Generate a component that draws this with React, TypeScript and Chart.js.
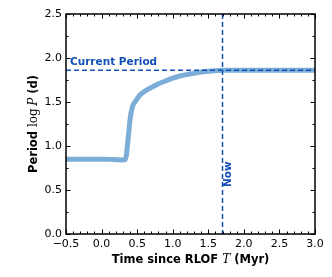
import React, { useEffect, useRef } from "react";
import { Chart, registerables } from "chart.js";

Chart.register(...registerables);

// Data
const times = [-0.5, -0.3, -0.1, 0.0, 0.1, 0.2, 0.3, 0.33, 0.35, 0.362, 0.375, 0.39, 0.405, 0.423, 0.44, 0.47, 0.54, 0.62, 0.68, 0.78, 0.87, 0.98, 1.1, 1.25, 1.38, 1.55, 1.71, 2.0, 2.5, 3.0];
const logP = [0.85, 0.85, 0.85, 0.85, 0.848, 0.845, 0.842, 0.845, 0.9, 0.993, 1.1, 1.22, 1.33, 1.41, 1.46, 1.5, 1.58, 1.63, 1.656, 1.7, 1.73, 1.765, 1.795, 1.82, 1.837, 1.852, 1.86, 1.862, 1.862, 1.862];
const currentPeriod = 1.86;
const nowTime = 1.7;
const xTicks = [-0.5, 0.0, 0.5, 1.0, 1.5, 2.0, 2.5, 3.0];
const yTicks = [0.0, 0.5, 1.0, 1.5, 2.0, 2.5];
const xMinorStep = 0.1;
const yMinorStep = 0.25;
const xTitle = "Time since RLOF ";
const xTitleMath = "T";
const xTitleEnd = " (Myr)";
const currentLabel = "Current Period";
const nowLabel = "Now";

const BLUE = "#1450b8";
const CURVE = "#7badd8";

const overlay = {
  id: "overlay",
  afterDatasetsDraw(chart: any) {
    const ctx = chart.ctx;
    const { left, right, top, bottom } = chart.chartArea;
    const xs = chart.scales.x;
    const ys = chart.scales.y;
    ctx.save();
    // dashed reference lines
    ctx.strokeStyle = BLUE;
    ctx.lineWidth = 1.5;
    ctx.setLineDash([5, 3]);
    const yCur = ys.getPixelForValue(currentPeriod);
    ctx.beginPath();
    ctx.moveTo(left, yCur);
    ctx.lineTo(right, yCur);
    ctx.stroke();
    const xNow = xs.getPixelForValue(nowTime);
    ctx.beginPath();
    ctx.moveTo(xNow, top);
    ctx.lineTo(xNow, bottom);
    ctx.stroke();
    ctx.setLineDash([]);
    // labels
    ctx.fillStyle = BLUE;
    ctx.font = "bold 10.5px 'DejaVu Sans'";
    ctx.textAlign = "left";
    ctx.textBaseline = "alphabetic";
    ctx.fillText(currentLabel, left + 4, yCur - 5);
    ctx.save();
    ctx.translate(xNow + 8.5, ys.getPixelForValue(0.68));
    ctx.rotate(-Math.PI / 2);
    ctx.textAlign = "center";
    ctx.fillText(nowLabel, 0, 0);
    ctx.restore();

    // frame
    ctx.strokeStyle = "#000";
    ctx.lineWidth = 1.5;
    ctx.strokeRect(left, top, right - left, bottom - top);
    // ticks
    ctx.lineWidth = 1;
    const tick = (x1: number, y1: number, x2: number, y2: number) => {
      ctx.beginPath();
      ctx.moveTo(x1, y1);
      ctx.lineTo(x2, y2);
      ctx.stroke();
    };
    const xmin = xs.min, xmax = xs.max, ymin = ys.min, ymax = ys.max;
    const nx = Math.round((xmax - xmin) / xMinorStep);
    for (let i = 0; i <= nx; i++) {
      const v = xmin + i * xMinorStep;
      const p = Math.round(xs.getPixelForValue(v)) + 0.5;
      const major = xTicks.some((t) => Math.abs(t - v) < 1e-6);
      const L = major ? 4.5 : 2.5;
      tick(p, bottom, p, bottom - L);
      tick(p, top, p, top + L);
    }
    const ny = Math.round((ymax - ymin) / yMinorStep);
    for (let i = 0; i <= ny; i++) {
      const v = ymin + i * yMinorStep;
      const p = Math.round(ys.getPixelForValue(v)) + 0.5;
      const major = yTicks.some((t) => Math.abs(t - v) < 1e-6);
      const L = major ? 4.5 : 2.5;
      tick(left, p, left + L, p);
      tick(right, p, right - L, p);
    }

    // axis titles
    ctx.fillStyle = "#000";
    ctx.textBaseline = "alphabetic";
    const boldF = "bold 11.5px 'DejaVu Sans'";
    const mathF = "italic 12px 'DejaVu Serif'";
    const romF = "12px 'DejaVu Serif'";
    // x title
    ctx.font = boldF;
    const w1 = ctx.measureText(xTitle).width;
    const w3 = ctx.measureText(xTitleEnd).width;
    ctx.font = mathF;
    const w2 = ctx.measureText(xTitleMath).width;
    const tot = w1 + w2 + w3;
    let x0 = (left + right) / 2 - tot / 2;
    const yb = 263;
    ctx.textAlign = "left";
    ctx.font = boldF;
    ctx.fillText(xTitle, x0, yb);
    ctx.font = mathF;
    ctx.fillText(xTitleMath, x0 + w1, yb);
    ctx.font = boldF;
    ctx.fillText(xTitleEnd, x0 + w1 + w2, yb);
    // y title
    const parts: [string, string][] = [
      ["Period ", boldF],
      ["log", romF],
      ["\u2009", romF],
      ["P", mathF],
      [" (d)", boldF],
    ];
    let tw = 0;
    const widths = parts.map(([t, f]) => {
      ctx.font = f;
      const w = ctx.measureText(t).width;
      tw += w;
      return w;
    });
    ctx.save();
    ctx.translate(37, (top + bottom) / 2);
    ctx.rotate(-Math.PI / 2);
    let cx = -tw / 2;
    parts.forEach(([t, f], i) => {
      ctx.font = f;
      ctx.fillText(t, cx, 0);
      cx += widths[i];
    });
    ctx.restore();
    ctx.restore();
  },
};

const fmt = (v: number) => (v < 0 ? "\u2212" + Math.abs(v).toFixed(1) : v.toFixed(1));

export default function App() {
  const ref = useRef<HTMLCanvasElement>(null);
  useEffect(() => {
    const chart = new Chart(ref.current!, {
      type: "scatter",
      data: {
        datasets: [
          {
            data: times.map((t, i) => ({ x: t, y: logP[i] })),
            showLine: true,
            borderColor: CURVE,
            borderWidth: 5,
            pointRadius: 0,
            cubicInterpolationMode: "monotone",
            borderCapStyle: "butt",
          } as any,
        ],
      },
      options: {
        responsive: false,
        animation: false,
        layout: { padding: { top: 14, right: 17, left: 0, bottom: 0 } },
        plugins: { legend: { display: false }, tooltip: { enabled: false } },
        scales: {
          x: {
            type: "linear",
            min: -0.5,
            max: 3.0,
            afterFit: (s: any) => {
              s.height = 43;
            },
            afterBuildTicks: (s: any) => {
              s.ticks = xTicks.map((v) => ({ value: v }));
            },
            grid: { display: false, drawTicks: false },
            border: { display: false },
            ticks: {
              padding: 4,
              color: "#000",
              font: { family: "'DejaVu Sans'", size: 11 },
              maxRotation: 0,
              callback: (v: any) => fmt(Number(v)),
            },
          },
          y: {
            type: "linear",
            min: 0,
            max: 2.5,
            afterFit: (s: any) => {
              s.width = 66;
            },
            afterBuildTicks: (s: any) => {
              s.ticks = yTicks.map((v) => ({ value: v }));
            },
            grid: { display: false, drawTicks: false },
            border: { display: false },
            ticks: {
              padding: 4,
              color: "#000",
              font: { family: "'DejaVu Sans'", size: 11 },
              callback: (v: any) => fmt(Number(v)),
            },
          },
        },
      },
      plugins: [overlay],
    });
    return () => chart.destroy();
  }, []);
  return (
    <div style={{ position: "absolute", left: 0, top: 0, width: 332, height: 277, background: "#fff" }}>
      <canvas ref={ref} width={332} height={277} />
    </div>
  );
}
